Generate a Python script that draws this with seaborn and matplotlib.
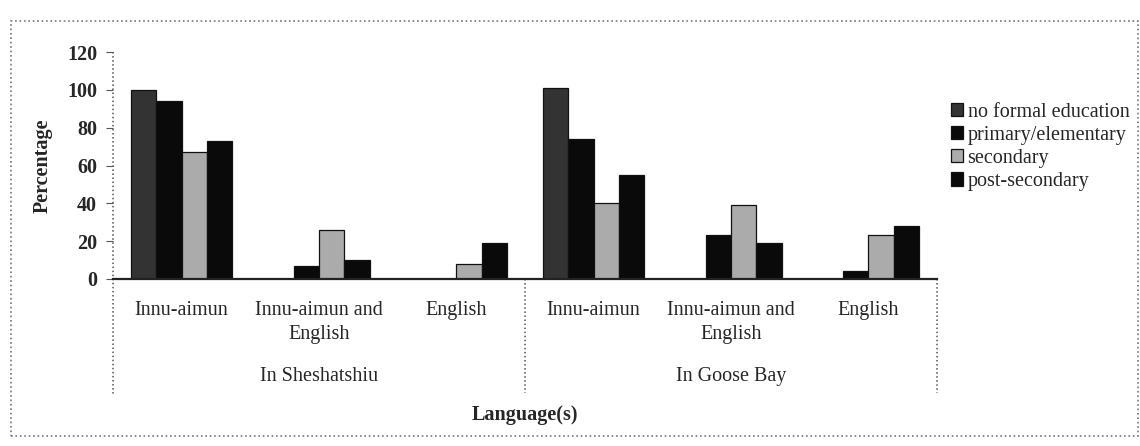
import matplotlib
matplotlib.use("Agg")
import numpy as np
import pandas as pd
import seaborn as sns
import matplotlib.pyplot as plt
import matplotlib.transforms as mtransforms
from matplotlib.patches import Rectangle

# ---------------- data ----------------
locations = ["In Sheshatshiu", "In Goose Bay"]
languages = ["Innu-aimun", "Innu-aimun and\nEnglish", "English"]
levels = ["no formal education", "primary/elementary", "secondary", "post-secondary"]
sheshatshiu_values = [[100, 94, 67, 73], [0, 7, 26, 10], [0, 0, 8, 19]]
goose_bay_values = [[101, 74, 40, 55], [0, 23, 39, 19], [0, 4, 23, 28]]
yticks = [0, 20, 40, 60, 80, 100, 120]

rows = []
for loc, vals in zip(locations, [sheshatshiu_values, goose_bay_values]):
    for lang, v in zip(languages, vals):
        for lev, val in zip(levels, v):
            rows.append(dict(location=loc, language=lang, group=f"{loc}|{lang}",
                             level=lev, value=val))
df = pd.DataFrame(rows)
order = [f"{l}|{g}" for l in locations for g in languages]

# ---------------- style ----------------
sns.set_theme(style="white")
plt.rcParams["font.family"] = ["Liberation Serif", "DejaVu Serif"]

W, H = 1140, 446
fig = plt.figure(figsize=(W / 100, H / 100), dpi=100)
ax = fig.add_axes([113 / W, 1 - 279 / H, 824 / W, 227 / H])

palette = ["#333333", "#0a0a0a", "#ababab", "#0a0a0a"]
sns.barplot(data=df, x="group", y="value", hue="level", order=order,
            hue_order=levels, palette=palette, width=0.74, gap=0,
            saturation=1, edgecolor="#111111", linewidth=0.9,
            errorbar=None, ax=ax)

ax.set_xlim(-0.5, 5.5)
ax.set_ylim(0, 120)
ax.set_yticks(yticks)
ax.set_yticklabels([str(t) for t in yticks], fontweight="bold")
ax.set_xticks(range(len(order)))
ax.set_xticklabels(languages * 2)
for lbl in ax.get_xticklabels():
    lbl.set_linespacing(1.35)

for s in ["top", "right", "left"]:
    ax.spines[s].set_visible(False)
ax.spines["bottom"].set_color("#222222")
ax.spines["bottom"].set_linewidth(1.6)

ax.tick_params(axis="y", length=5, width=0.8, color="#555555", pad=6.5,
               labelsize=14.5, left=True, direction="out")
ax.tick_params(axis="x", length=0, pad=16, labelsize=14.5)

blend = mtransforms.blended_transform_factory(ax.transData, ax.transAxes)
ax.plot([-0.5, -0.5], [1.0, -0.51], transform=blend, clip_on=False,
        ls=":", lw=1.1, color="#555555")
for xs in [2.5, 5.5]:
    ax.plot([xs, xs], [0, -0.5], transform=blend, clip_on=False,
            ls=":", lw=1.1, color="#555555")

for i, loc in enumerate(locations):
    ax.text(1 + 3 * i, -0.43, loc, transform=blend, ha="center", va="center",
            fontsize=14.5)

ax.set_xlabel("Language(s)", fontsize=14.5, fontweight="bold")
ax.xaxis.set_label_coords(0.5, -0.555)
ax.set_ylabel("Percentage", fontsize=14.5, fontweight="bold")
ax.yaxis.set_label_coords(-0.073, 0.5)

handles, labels = ax.get_legend_handles_labels()
ax.legend(handles, labels, loc="upper left",
          bbox_to_anchor=(951 / W, 1 - 103 / H), bbox_transform=fig.transFigure,
          frameon=False, fontsize=14.5, handlelength=0.62, handleheight=0.62,
          handletextpad=0.2, labelspacing=0.2, borderpad=0, borderaxespad=0)

fig.add_artist(Rectangle((11 / W, 1 - 436 / H), (1138 - 11) / W, (436 - 21) / H,
                         transform=fig.transFigure, fill=False, ls=":",
                         lw=1.2, ec="#777777"))

fig.savefig("out.png", dpi=100)
